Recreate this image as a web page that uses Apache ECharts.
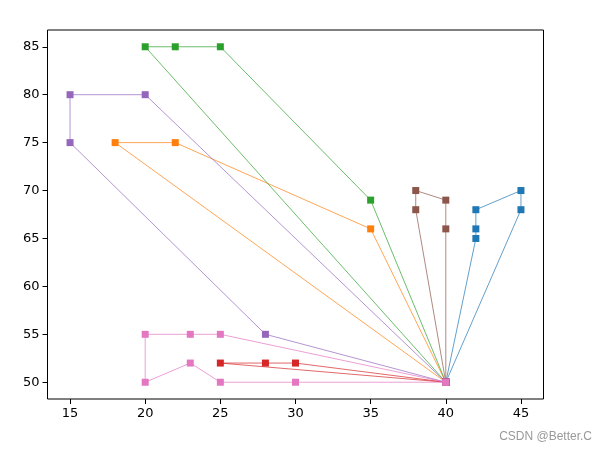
<!DOCTYPE html>
<html><head><meta charset="utf-8">
<script src="https://cdn.jsdelivr.net/npm/echarts@6/dist/echarts.min.js"></script>
<style>html,body{margin:0;padding:0;background:#fff}#c{width:607px;height:452px}</style>
</head><body><div id="c"></div>
<script>
// Routes (x, y) starting and ending at the depot (40, 50)
const route0 = [[40,50],[42,65],[42,66],[42,68],[45,70],[45,68],[40,50]];
const route1 = [[40,50],[35,66],[22,75],[18,75],[40,50]];
const route2 = [[40,50],[35,69],[25,85],[22,85],[20,85],[40,50]];
const route3 = [[40,50],[25,52],[28,52],[30,52],[40,50]];
const route4 = [[40,50],[28,55],[15,75],[15,80],[20,80],[40,50]];
const route5 = [[40,50],[38,68],[38,70],[40,69],[40,66],[40,50]];
const route6 = [[40,50],[25,55],[23,55],[20,55],[20,50],[23,52],[25,50],[30,50],[40,50]];
const routes = [route0, route1, route2, route3, route4, route5, route6];
const xTicks = [15,20,25,30,35,40,45];
const yTicks = [50,55,60,65,70,75,80,85];

const colors = ['#1f77b4','#ff7f0e','#2ca02c','#d62728','#9467bd','#8c564b','#e377c2'];
const chart = echarts.init(document.getElementById('c'), null, {renderer:'canvas'});
const labelStyle = {color:'#000', fontSize:13, fontFamily:'DejaVu Sans'};
chart.setOption({
  animation:false,
  backgroundColor:'#fff',
  grid:{left:47.5, right:63.5, top:30, bottom:53, show:true, borderColor:'#000', borderWidth:1, backgroundColor:'transparent'},
  xAxis:{type:'value', min:13.5, max:46.5,
    axisLine:{show:false}, splitLine:{show:false},
    axisTick:{show:true, length:5, lineStyle:{color:'#000'}, customValues:xTicks},
    axisLabel:Object.assign({margin:8, customValues:xTicks}, labelStyle)},
  yAxis:{type:'value', min:48.25, max:86.75,
    axisLine:{show:false}, splitLine:{show:false},
    axisTick:{show:true, length:5, lineStyle:{color:'#000'}, customValues:yTicks},
    axisLabel:Object.assign({margin:8, customValues:yTicks}, labelStyle)},
  graphic:[{type:'text', right:15, top:431, style:{text:'CSDN @Better.C', fill:'#999', fontSize:12, fontFamily:'Liberation Sans'}}],
  series: routes.map((r,i)=>({
    type:'line', data:r, symbol:'rect', symbolSize:7, showSymbol:true,
    color:colors[i],
    itemStyle:{color:colors[i]},
    lineStyle:{color:colors[i], width:0.7},
    z:2+i
  }))
});
</script></body></html>
